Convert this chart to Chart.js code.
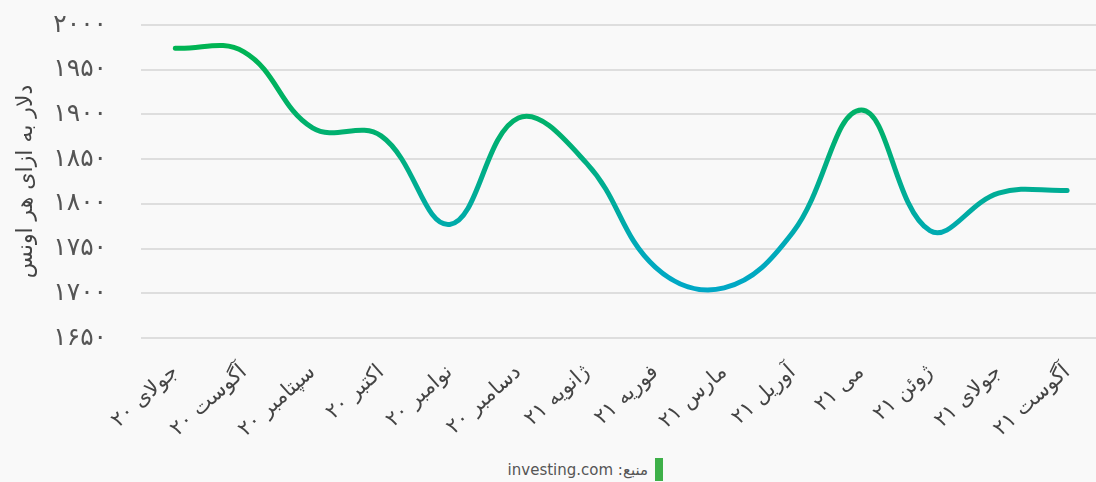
<!DOCTYPE html>
<html lang="fa">
<head>
<meta charset="utf-8">
<title>قیمت طلا</title>
<script src="https://cdn.jsdelivr.net/npm/chart.js@4.4.0/dist/chart.umd.min.js"></script>
<style>
  html, body {
    margin: 0;
    padding: 0;
    width: 1096px;
    height: 482px;
    overflow: hidden;
    background: #f9f9f9;
    font-family: "DejaVu Sans", "Noto Sans", sans-serif;
  }
  #goldChart {
    position: absolute;
    left: 0;
    top: 0;
  }
  .source {
    position: absolute;
    top: 458px;
    right: 433px;
    display: flex;
    align-items: center;
    direction: rtl;
    font-size: 15px;
    color: #555;
  }
  .source .bar {
    width: 8px;
    height: 23px;
    background: #3eb049;
    margin-left: 7px;
  }
</style>
</head>
<body>
<canvas id="goldChart" width="1106" height="456"></canvas>
<div class="source"><span class="bar"></span><span>منبع: investing.com</span></div>

<script>
const months = ["جولای ۲۰", "آگوست ۲۰", "سپتامبر ۲۰", "اکتبر ۲۰", "نوامبر ۲۰", "دسامبر ۲۰",
    "ژانویه ۲۱", "فوریه ۲۱", "مارس ۲۱", "آوریل ۲۱", "می ۲۱", "ژوئن ۲۱", "جولای ۲۱", "آگوست ۲۱"];
const goldPrices = [1974, 1970, 1885, 1876, 1777, 1896, 1845, 1729, 1706, 1768, 1905, 1770, 1812, 1815];
const yMin = 1650;
const yMax = 2000;
const yStep = 50;
const yTitle = "دلار به ازای هر اونس";

const faDigits = "۰۱۲۳۴۵۶۷۸۹";
function toPersian(n) {
    return String(n).replace(/[0-9]/g, (d) => faDigits[d]);
}

function lineGradient(context) {
    const chart = context.chart;
    const area = chart.chartArea;
    if (!area) {
        return "#00b060";
    }
    const g = chart.ctx.createLinearGradient(0, area.top, 0, area.bottom);
    g.addColorStop(0, "#00b54c");
    g.addColorStop(0.35, "#00b070");
    g.addColorStop(0.7, "#00aab8");
    g.addColorStop(1, "#00a6d4");
    return g;
}

const ctx = document.getElementById("goldChart").getContext("2d");

new Chart(ctx, {
    type: "line",
    data: {
        labels: months,
        datasets: [{
            label: yTitle,
            data: goldPrices,
            borderColor: lineGradient,
            borderWidth: 5,
            borderCapStyle: "round",
            tension: 0.4,
            pointRadius: 0,
            fill: false,
        }],
    },
    options: {
        responsive: false,
        animation: false,
        devicePixelRatio: 1,
        layout: {
            padding: { top: 25, left: 0, right: 0, bottom: 0 },
        },
        plugins: {
            legend: { display: false },
            tooltip: { enabled: false },
        },
        scales: {
            x: {
                offset: true,
                grid: { display: false, drawTicks: false },
                border: { display: false },
                ticks: {
                    autoSkip: false,
                    minRotation: 42,
                    maxRotation: 42,
                    padding: 22,
                    color: "#444",
                    font: { family: "DejaVu Sans", size: 21 },
                },
                afterFit: (scale) => {
                    scale.height = 118;
                },
            },
            y: {
                min: yMin,
                max: yMax,
                grid: { color: "#dedede", lineWidth: 2, drawTicks: false },
                border: { display: false },
                ticks: {
                    stepSize: yStep,
                    padding: 34,
                    color: "#555",
                    font: { family: "DejaVu Sans", size: 25 },
                    callback: (v) => toPersian(v),
                },
                title: {
                    display: true,
                    text: yTitle,
                    color: "#444",
                    font: { family: "DejaVu Sans", size: 22 },
                    padding: { top: 13, bottom: 0 },
                },
                afterFit: (scale) => {
                    // tick padding would otherwise push the plot area down
                    scale.width = 141;
                    scale.paddingTop = 0;
                    scale.paddingBottom = 0;
                },
            },
        },
    },
});
</script>
</body>
</html>
